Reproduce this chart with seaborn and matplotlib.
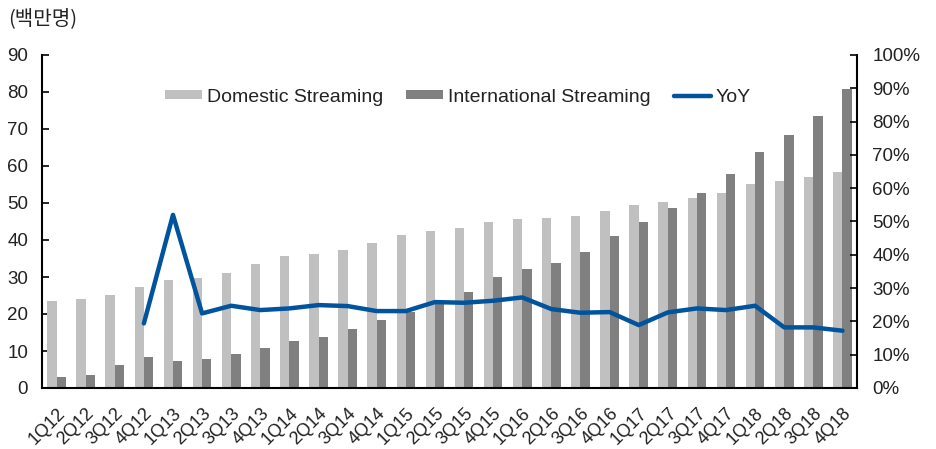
import matplotlib
matplotlib.use("Agg")
import matplotlib.pyplot as plt
import matplotlib.transforms as mtransforms
import seaborn as sns
import numpy as np
import pandas as pd
from matplotlib.patches import Patch
from matplotlib.lines import Line2D

quarters = ["1Q12", "2Q12", "3Q12", "4Q12", "1Q13", "2Q13", "3Q13", "4Q13",
            "1Q14", "2Q14", "3Q14", "4Q14", "1Q15", "2Q15", "3Q15", "4Q15",
            "1Q16", "2Q16", "3Q16", "4Q16", "1Q17", "2Q17", "3Q17", "4Q17",
            "1Q18", "2Q18", "3Q18", "4Q18"]
domestic = [23.4, 24.0, 25.1, 27.2, 29.2, 29.8, 31.1, 33.4,
            35.7, 36.2, 37.3, 39.2, 41.4, 42.3, 43.2, 44.8,
            45.7, 46.0, 46.5, 47.9, 49.4, 50.2, 51.4, 52.8,
            55.1, 55.9, 57.0, 58.5]
international = [3.1, 3.6, 6.3, 8.3, 7.2, 7.8, 9.2, 10.9,
                 12.7, 13.8, 15.9, 18.3, 20.6, 23.3, 26.0, 30.1,
                 32.1, 33.9, 36.8, 41.2, 44.9, 48.7, 52.6, 57.9,
                 63.9, 68.4, 73.5, 80.8]
yoy = [np.nan, np.nan, np.nan, 19.4, 52.0, 22.4, 24.7, 23.4,
       23.9, 24.9, 24.6, 23.1, 23.1, 25.8, 25.6, 26.2,
       27.2, 23.7, 22.6, 22.8, 18.9, 22.7, 23.9, 23.4,
       24.7, 18.2, 18.2, 17.2]
series_names = ["Domestic Streaming", "International Streaming", "YoY"]
left_ticks = list(range(0, 91, 10))
right_ticks = list(range(0, 101, 10))

c_dom = "#C0C0C0"
c_int = "#808080"
c_line = "#00539D"

sns.set_theme(style="white")
plt.rcParams['font.family'] = ['Liberation Sans', 'Noto Sans CJK KR', 'DejaVu Sans']

df = pd.DataFrame({
    "quarter": quarters * 2,
    "value": domestic + international,
    "series": [series_names[0]] * len(quarters) + [series_names[1]] * len(quarters),
})

fig = plt.figure(figsize=(9.37, 4.49), dpi=100)
ax = fig.add_axes([42 / 937, 61 / 449, (857 - 42) / 937, (388 - 55) / 449])

sns.barplot(data=df, x="quarter", y="value", hue="series", order=quarters,
            hue_order=series_names[:2], palette=[c_dom, c_int], width=0.64,
            gap=0, saturation=1, errorbar=None, ax=ax, legend=False,
            linewidth=0, edgecolor="none")

ax2 = ax.twinx()
line_df = pd.DataFrame({"x": np.arange(len(quarters)), "yoy": yoy})
sns.lineplot(data=line_df, x="x", y="yoy", color=c_line, linewidth=3.2, ax=ax2)

ax.set_xlim(-0.5, len(quarters) - 0.5)
ax.set_ylim(0, 90)
ax2.set_ylim(0, 100)
ax.set_yticks(left_ticks)
ax.set_yticklabels([str(t) for t in left_ticks], fontsize=13.5, color="#222222")
ax2.set_yticks(right_ticks)
ax2.set_yticklabels([f"{t}%" for t in right_ticks], fontsize=13.5, color="#222222")
ax.set_xlabel("")
ax.set_ylabel("")
ax2.set_xlabel("")
ax2.set_ylabel("")

ax.set_xticks(np.arange(len(quarters)))
ax.set_xticklabels(quarters, rotation=45, ha="right", rotation_mode="anchor",
                   fontsize=13, color="#222222")
offset = mtransforms.ScaledTranslation(-5 / 100, 0, fig.dpi_scale_trans)
for lbl in ax.get_xticklabels():
    lbl.set_transform(lbl.get_transform() + offset)
ax.set_xticks(np.arange(len(quarters) - 1) + 0.5, minor=True)
ax.tick_params(axis="x", which="major", length=0, pad=12)
ax.tick_params(axis="x", which="minor", length=5, width=1.2, direction="in", color="black")
ax.tick_params(axis="y", length=5, width=1.2, direction="in", color="black", pad=10, left=True)
ax2.tick_params(axis="y", length=5, width=1.2, direction="in", color="black", pad=11, right=True)

for a in (ax, ax2):
    a.spines["top"].set_visible(False)
    for s in ("left", "right", "bottom"):
        a.spines[s].set_color("black")
        a.spines[s].set_linewidth(1.5)
ax.spines["right"].set_visible(False)
ax2.spines["left"].set_visible(False)
ax2.spines["bottom"].set_visible(False)

handles = [Patch(facecolor=c_dom, edgecolor="none"),
           Patch(facecolor=c_int, edgecolor="none"),
           Line2D([0], [0], color=c_line, linewidth=3.2)]
fig.legend(handles, series_names, loc="center", bbox_to_anchor=(458 / 937, 1 - 97 / 449),
           ncol=3, frameon=False, fontsize=14, handlelength=1.9, handleheight=0.4,
           handletextpad=0.25, columnspacing=1.2, labelcolor="#222222")

fig.text(8 / 937, 1 - 20 / 449, "(백만명)", fontsize=14.5, ha="left", va="center",
         color="#222222", family=["Noto Sans CJK KR", "DejaVu Sans"])

fig.savefig("out.png", dpi=100)
